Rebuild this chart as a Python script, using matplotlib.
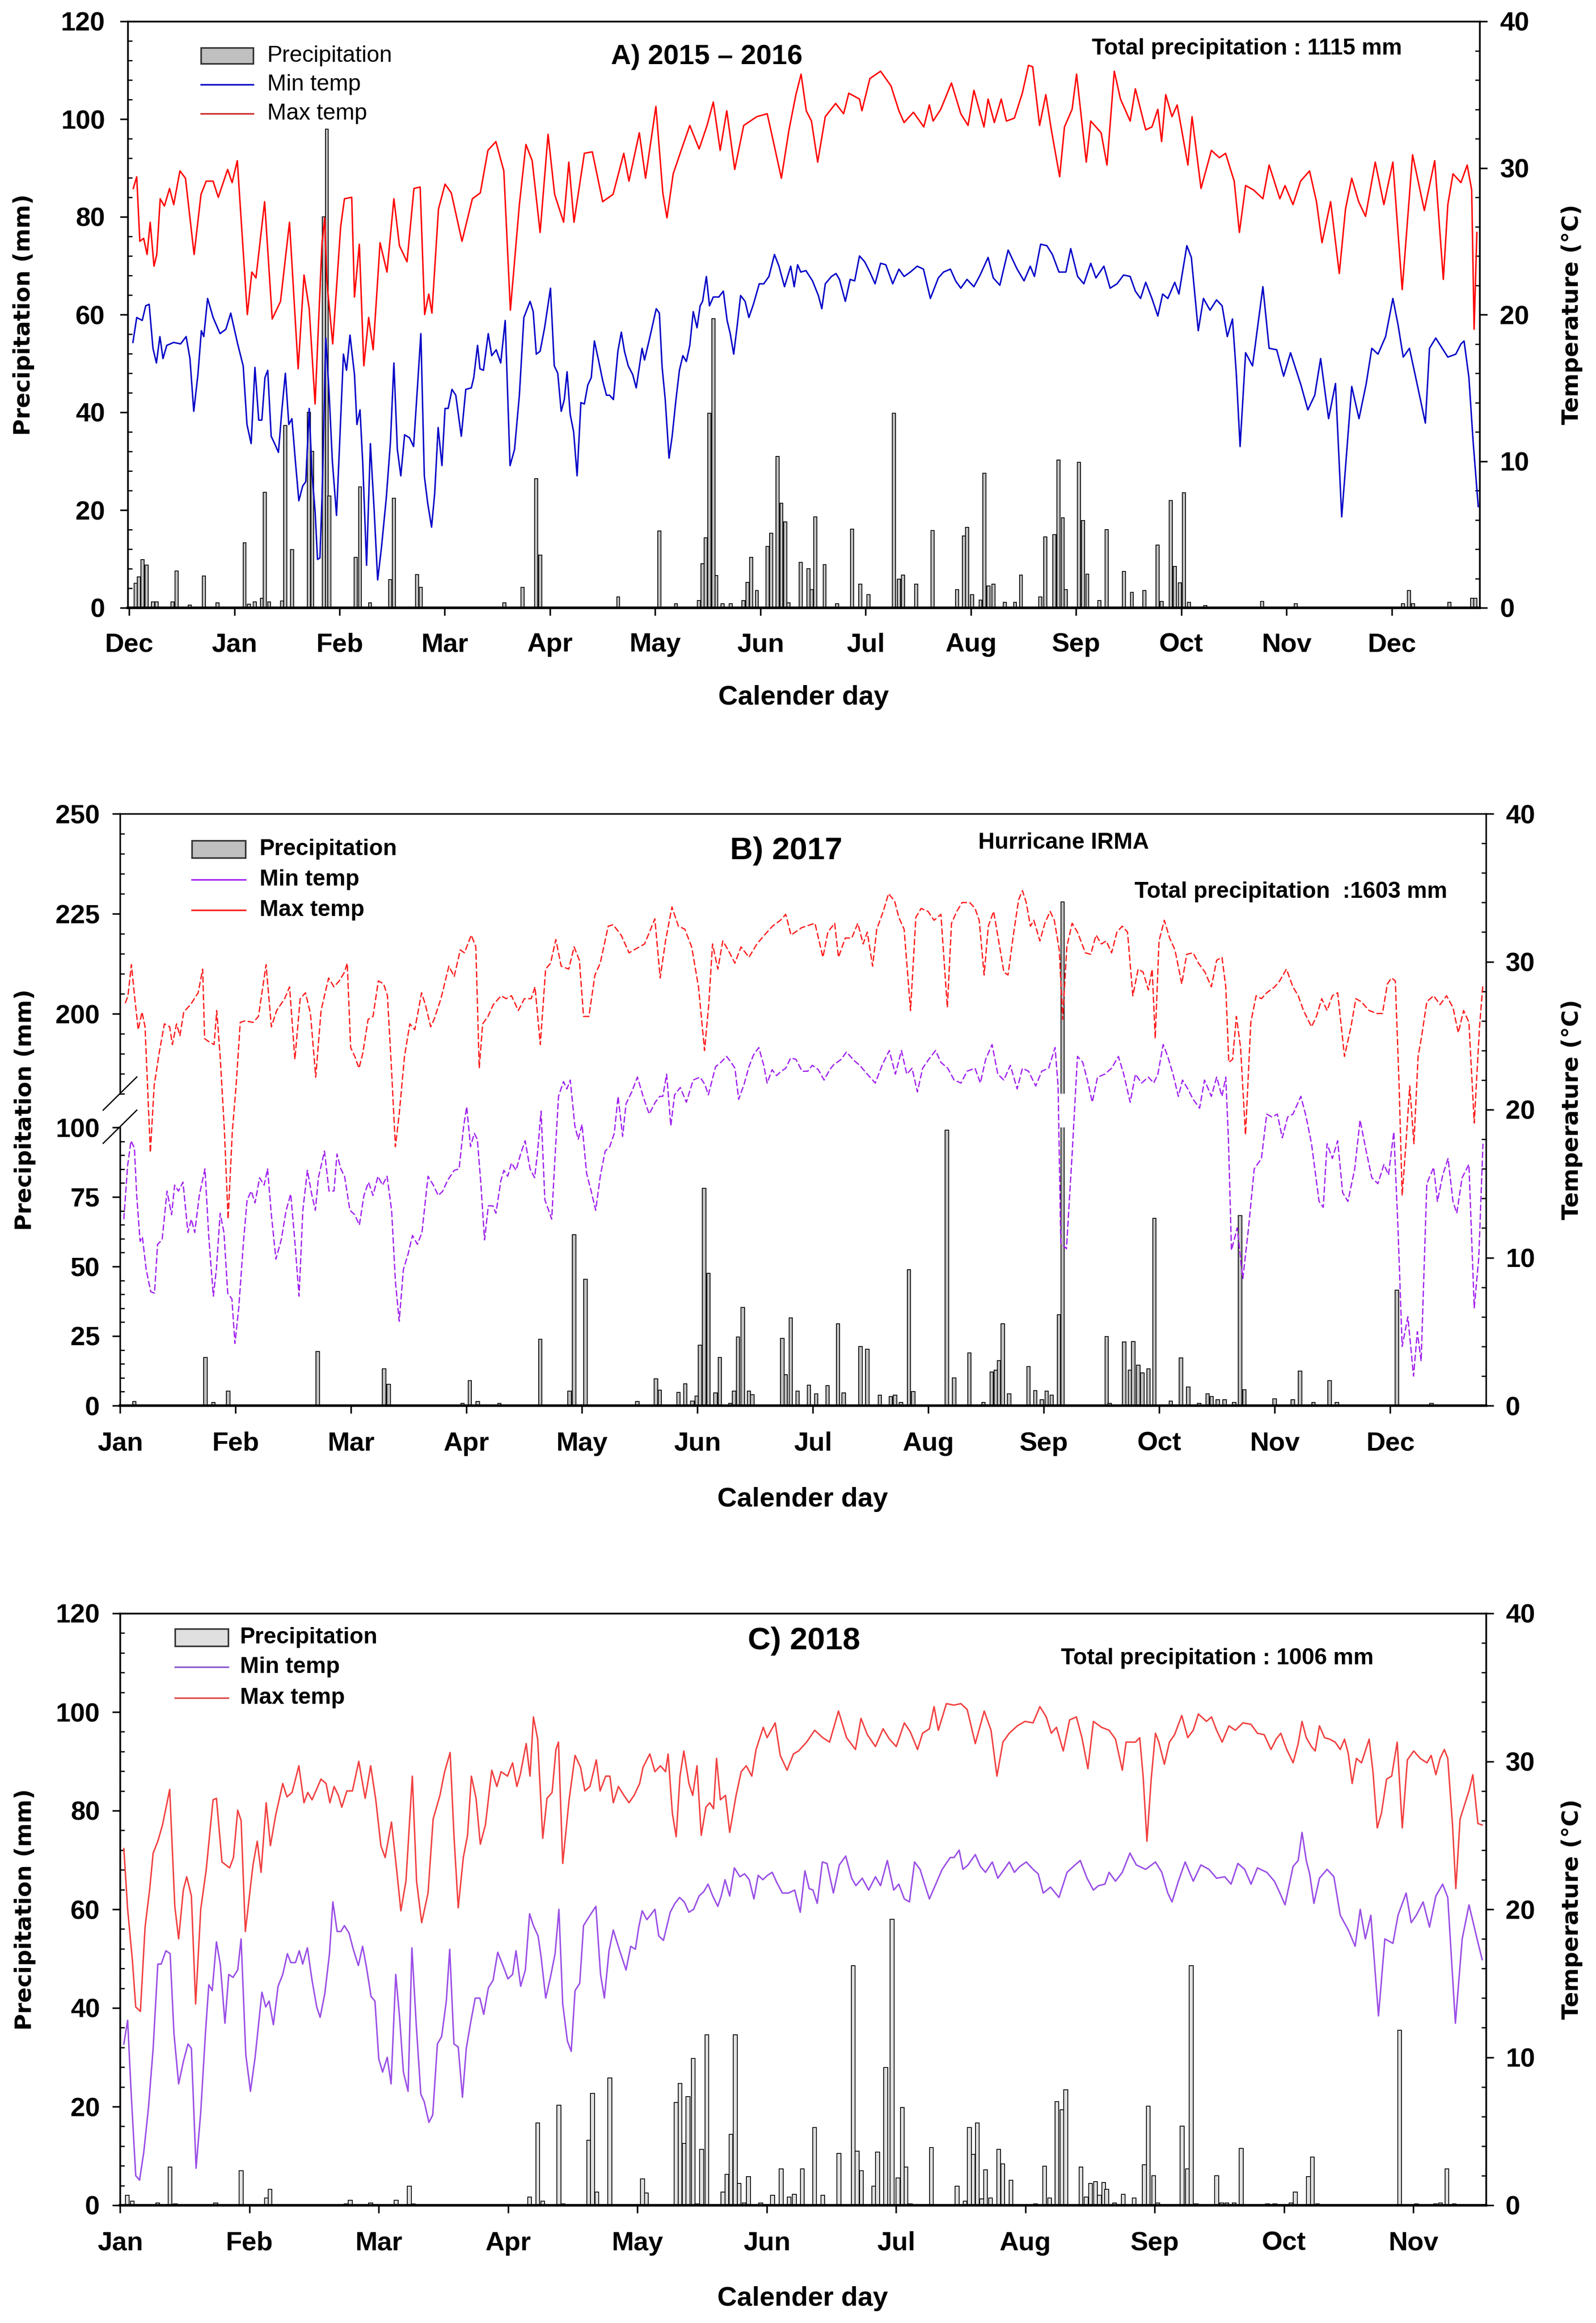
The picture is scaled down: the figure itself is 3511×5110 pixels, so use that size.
import matplotlib
matplotlib.use("Agg")
import matplotlib.pyplot as plt
from matplotlib.lines import Line2D
from matplotlib.patches import Rectangle
from matplotlib.ticker import MultipleLocator

W, H = 3512, 5110
MONTH = 30.44

plt.rcParams['font.family'] = ['Liberation Sans', 'DejaVu Sans']
plt.rcParams['font.weight'] = 'bold'
plt.rcParams['axes.linewidth'] = 2.5

# ---------------- data (day of period, value) ----------------
months_a = ['Dec', 'Jan', 'Feb', 'Mar', 'Apr', 'May', 'Jun', 'Jul', 'Aug', 'Sep', 'Oct', 'Nov', 'Dec']
months_b = ['Jan', 'Feb', 'Mar', 'Apr', 'May', 'Jun', 'Jul', 'Aug', 'Sep', 'Oct', 'Nov', 'Dec']
months_c = ['Jan', 'Feb', 'Mar', 'Apr', 'May', 'Jun', 'Jul', 'Aug', 'Sep', 'Oct', 'Nov']

a_tmax = [(1.2, 28.6), (2.2, 29.4), (3.1, 25.0), (4.2, 25.2), (5.2, 24.1), (6.1, 26.3), (7.2, 23.3), (8.0, 24.1),
          (9.0, 27.9), (10.2, 27.4), (11.7, 28.6), (12.9, 27.5), (14.7, 29.8), (16.3, 29.3), (18.8, 24.1), (20.8, 28.2),
          (22.3, 29.1), (24.3, 29.1), (25.8, 28.0), (28.5, 29.9), (29.8, 29.0), (31.3, 30.5), (34.2, 20.0), (35.5, 22.9),
          (36.7, 22.5), (39.2, 27.7), (41.4, 19.7), (43.8, 20.9), (46.4, 26.3), (48.9, 16.3), (50.6, 22.7), (52.1, 20.4),
          (53.8, 13.9), (55.8, 24.9), (56.6, 26.6), (57.2, 22.3), (58.9, 18.0), (61.2, 26.0), (62.3, 27.9), (64.4, 28.0),
          (65.2, 21.2), (66.6, 24.8), (67.9, 16.5), (69.3, 19.8), (70.6, 17.6), (72.6, 24.9), (74.6, 22.9), (76.6, 27.9),
          (78.2, 24.7), (80.4, 23.6), (82.4, 28.6), (84.2, 28.7), (85.5, 20.0), (86.7, 21.4), (87.6, 20.1), (89.5, 27.2),
          (91.4, 28.9), (93.2, 28.3), (96.3, 25.0), (99.3, 27.9), (101.6, 28.3), (103.8, 31.2), (106.1, 31.8), (108.4, 29.8),
          (110.3, 20.3), (112.9, 27.5), (114.8, 31.6), (116.6, 30.5), (118.9, 25.6), (121.2, 32.3), (123.1, 28.2), (125.7, 26.3),
          (127.2, 30.4), (128.7, 26.3), (131.7, 31.0), (134.0, 31.1), (137.0, 27.7), (140.0, 28.2), (143.1, 31.0), (144.6, 29.1),
          (147.6, 32.4), (149.4, 29.3), (152.4, 34.2), (154.4, 28.3), (155.6, 26.6), (157.4, 29.6), (159.7, 31.2), (162.2, 32.9),
          (164.9, 31.3), (167.2, 32.9), (169.0, 34.5), (171.0, 31.2), (172.9, 33.9), (175.2, 29.9), (177.8, 32.9), (181.6, 33.5),
          (184.6, 33.7), (186.1, 32.1), (188.7, 29.3), (190.9, 32.6), (192.9, 35.0), (194.4, 36.4), (195.9, 33.9), (197.4, 33.2),
          (199.2, 30.4), (201.4, 33.5), (204.4, 34.4), (206.7, 33.7), (208.2, 35.1), (211.3, 34.7), (212.0, 33.9), (214.3, 36.1),
          (217.4, 36.6), (220.4, 35.6), (222.7, 33.9), (224.2, 33.1), (226.9, 33.8), (229.9, 32.8), (231.5, 34.3), (232.6, 33.2),
          (234.8, 34.0), (237.9, 35.8), (240.6, 33.7), (242.7, 32.9), (244.4, 35.3), (247.3, 32.8), (248.5, 34.7), (250.3, 33.1),
          (252.3, 34.7), (253.8, 33.2), (256.1, 33.4), (258.4, 35.1), (260.2, 37.0), (261.4, 36.9), (263.4, 32.9), (265.2, 35.0),
          (266.8, 32.6), (269.2, 29.4), (270.6, 32.8), (272.8, 34.0), (274.1, 36.4), (276.9, 30.4), (278.2, 33.2), (281.2, 32.4),
          (282.9, 30.2), (285.0, 36.6), (286.8, 34.7), (289.6, 33.2), (291.1, 35.4), (294.1, 32.6), (295.9, 32.8), (297.6, 34.0),
          (298.7, 31.8), (299.9, 35.0), (301.7, 33.5), (303.2, 34.3), (304.5, 32.6), (306.3, 30.2), (307.5, 33.5), (310.1, 28.6),
          (313.1, 31.2), (315.4, 30.7), (317.2, 31.0), (319.7, 29.1), (321.2, 25.6), (323.0, 28.8), (325.3, 28.5), (328.0, 27.9),
          (329.8, 30.2), (332.9, 27.9), (334.4, 28.8), (336.7, 27.5), (338.9, 29.1), (341.5, 29.8), (343.5, 27.7), (345.1, 24.9),
          (347.6, 27.7), (350.1, 22.8), (351.9, 27.2), (353.7, 29.3), (355.7, 27.7), (357.7, 26.7), (360.5, 30.4), (363.0, 27.5),
          (365.6, 30.4), (368.3, 21.7), (371.3, 30.9), (374.7, 27.1), (377.7, 30.5), (380.2, 22.4), (381.5, 27.5), (383.0, 29.6),
          (385.3, 29.0), (387.1, 30.2), (388.4, 28.5), (389.1, 19.0), (389.9, 25.6)]

a_tmin = [(1.1, 18.1), (2.2, 19.8), (3.8, 19.6), (4.8, 20.6), (5.8, 20.7), (6.9, 17.7), (7.9, 16.7), (8.9, 18.5),
          (9.8, 17.0), (10.9, 17.9), (12.9, 18.1), (14.9, 18.0), (16.5, 18.5), (17.6, 17.0), (18.7, 13.4), (19.9, 15.9),
          (20.9, 18.9), (21.6, 18.5), (22.7, 21.1), (24.3, 19.8), (26.3, 18.7), (28.0, 19.0), (29.4, 20.1), (31.4, 18.0),
          (33.0, 16.5), (34.1, 12.5), (35.3, 11.2), (36.4, 16.4), (37.5, 12.8), (38.4, 12.8), (39.3, 15.7), (40.1, 16.2),
          (41.1, 11.7), (42.1, 11.2), (43.2, 10.6), (44.2, 13.5), (45.2, 16.0), (46.2, 12.5), (47.1, 12.9), (48.1, 10.0),
          (49.1, 7.3), (50.2, 8.3), (51.1, 8.6), (52.1, 13.6), (52.9, 9.2), (53.8, 6.6), (54.5, 3.3), (55.2, 3.4),
          (55.8, 7.5), (56.9, 18.4), (57.8, 14.9), (58.8, 10.0), (60.0, 6.3), (60.9, 11.2), (62.0, 17.3), (62.9, 16.2),
          (63.9, 18.6), (65.2, 15.9), (65.9, 12.5), (66.8, 13.5), (67.6, 9.8), (68.7, 2.9), (69.8, 11.2), (70.9, 6.6),
          (71.9, 1.9), (73.0, 4.1), (74.4, 7.5), (75.6, 11.3), (76.6, 16.7), (77.6, 10.8), (78.6, 9.0), (79.7, 11.8),
          (81.1, 11.6), (82.3, 11.0), (83.4, 15.0), (84.4, 18.7), (85.4, 9.0), (86.4, 7.1), (87.5, 5.5), (88.4, 7.8),
          (89.4, 12.3), (90.5, 9.7), (91.4, 13.6), (92.3, 13.6), (93.4, 14.9), (94.5, 14.5), (96.1, 11.7), (97.4, 14.9),
          (99.0, 15.0), (99.7, 15.7), (100.8, 17.9), (101.5, 16.3), (102.5, 16.2), (103.9, 18.7), (104.9, 17.2), (106.2, 17.6),
          (107.5, 16.7), (108.8, 19.6), (109.8, 12.5), (110.2, 9.7), (111.5, 10.8), (112.9, 14.5), (114.2, 19.8), (116.0, 20.9),
          (116.9, 20.2), (117.8, 17.3), (118.9, 17.5), (120.2, 19.1), (121.9, 21.8), (123.0, 16.5), (124.0, 16.0), (125.0, 13.4),
          (125.9, 14.2), (126.7, 16.1), (127.6, 13.2), (128.6, 12.0), (129.6, 9.0), (130.7, 14.0), (131.7, 13.9), (132.7, 15.2),
          (133.7, 15.7), (134.6, 18.2), (135.7, 17.0), (137.0, 15.5), (138.1, 14.5), (139.0, 14.5), (140.1, 14.2), (141.4, 17.5),
          (142.4, 18.8), (143.3, 17.5), (144.4, 16.5), (145.7, 15.9), (146.7, 15.0), (148.4, 17.7), (149.1, 16.9), (150.4, 18.2),
          (152.5, 20.4), (153.4, 20.1), (154.2, 16.4), (155.1, 14.2), (156.2, 10.2), (157.1, 11.7), (158.2, 14.2), (159.2, 16.2),
          (160.2, 17.2), (161.2, 16.8), (162.2, 17.9), (163.2, 20.2), (164.3, 19.1), (165.2, 20.6), (165.9, 20.9), (167.0, 22.6),
          (167.9, 20.6), (169.0, 21.2), (170.6, 21.2), (171.9, 21.6), (173.0, 19.6), (173.9, 18.7), (174.9, 17.3), (175.9, 19.2),
          (176.9, 21.3), (178.2, 20.9), (179.3, 19.8), (180.6, 20.7), (182.3, 22.1), (183.6, 22.1), (185.1, 22.6), (186.7, 24.1),
          (188.0, 23.3), (189.6, 21.9), (191.4, 23.3), (192.4, 21.9), (193.4, 23.4), (194.3, 22.9), (195.8, 23.0), (197.7, 22.3),
          (199.4, 21.3), (200.4, 20.4), (201.4, 22.1), (203.2, 22.6), (204.5, 22.8), (205.5, 22.4), (207.2, 20.9), (208.6, 22.4),
          (209.9, 22.3), (211.3, 24.0), (212.8, 23.6), (214.3, 22.9), (215.8, 22.1), (217.4, 23.5), (218.9, 23.4), (220.9, 22.1),
          (222.7, 23.1), (224.2, 22.6), (226.0, 22.9), (228.0, 23.3), (229.8, 23.1), (231.8, 21.1), (234.1, 22.5), (235.6, 22.9),
          (237.6, 23.1), (239.1, 22.3), (240.6, 21.8), (242.4, 22.4), (244.4, 21.9), (246.2, 22.7), (248.5, 23.9), (250.0, 22.5),
          (251.9, 22.0), (254.3, 24.4), (256.9, 23.1), (258.9, 22.3), (260.7, 23.3), (261.9, 22.6), (263.7, 24.8), (265.5, 24.7),
          (267.1, 24.1), (269.0, 22.9), (271.0, 22.9), (272.4, 24.5), (274.4, 22.6), (276.2, 22.1), (278.2, 23.5), (279.7, 22.5),
          (282.0, 23.3), (283.8, 21.8), (285.8, 22.1), (287.7, 22.7), (289.6, 22.6), (291.1, 21.6), (292.6, 21.1), (294.1, 22.2),
          (295.9, 21.1), (297.6, 19.9), (299.0, 21.4), (300.5, 21.1), (302.5, 22.2), (303.7, 21.4), (306.0, 24.7), (307.3, 23.9),
          (309.3, 18.9), (310.8, 21.1), (312.7, 20.3), (314.6, 21.0), (316.2, 20.6), (317.7, 18.5), (319.2, 19.7), (320.3, 16.0),
          (321.4, 11.0), (323.0, 17.4), (325.0, 16.5), (328.0, 21.9), (329.8, 17.7), (332.0, 17.6), (334.0, 15.8), (336.0, 17.4),
          (339.0, 15.2), (341.0, 13.5), (343.0, 14.5), (344.7, 17.0), (347.0, 12.9), (349.0, 15.3), (350.8, 6.2), (353.7, 15.1),
          (355.8, 12.9), (357.9, 15.3), (359.5, 17.7), (361.3, 17.3), (363.5, 18.5), (365.6, 21.1), (367.1, 19.3), (368.6, 17.1),
          (370.4, 17.7), (372.4, 15.5), (375.0, 12.6), (376.2, 17.7), (378.0, 18.4), (381.5, 17.1), (383.8, 17.3), (385.3, 18.0),
          (386.2, 18.2), (387.6, 15.7), (388.8, 11.4), (390.3, 6.9)]

a_rain = [(1.9, 5.0), (2.8, 6.3), (3.9, 9.9), (5.1, 8.7), (6.9, 1.2), (7.9, 1.2), (12.5, 1.2), (13.7, 7.5), (17.6, 0.6),
          (21.6, 6.5), (25.6, 1.0), (33.4, 13.3), (34.6, 0.7), (36.4, 1.2), (38.4, 2.0), (39.3, 23.6), (40.5, 1.2),
          (44.2, 1.4), (45.2, 37.3), (47.1, 11.9), (52.0, 40.0), (53.0, 32.0), (56.4, 80.0), (57.2, 98.0), (57.9, 22.9),
          (65.6, 10.3), (66.8, 24.7), (69.7, 1.0), (75.6, 5.8), (76.6, 22.4), (83.3, 6.8), (84.4, 4.2), (108.5, 1.0),
          (113.8, 4.2), (117.8, 26.4), (118.9, 10.8), (141.5, 2.2), (153.4, 15.7), (158.2, 0.8), (164.8, 1.5), (165.9, 9.0),
          (166.8, 14.3), (167.9, 39.8), (169.0, 59.2), (169.9, 6.6), (171.7, 0.8), (174.0, 0.8), (177.7, 1.5), (178.9, 5.2),
          (180.0, 10.3), (181.6, 3.5), (184.7, 12.6), (185.7, 15.3), (187.6, 31.0), (188.7, 21.4), (189.8, 17.6), (190.7, 1.0),
          (194.3, 9.3), (196.5, 8.0), (197.4, 3.7), (198.5, 18.6), (201.2, 8.8), (204.8, 0.8), (209.1, 16.1), (211.5, 4.8),
          (213.9, 2.7), (221.2, 39.8), (222.7, 5.9), (223.9, 6.7), (227.7, 4.8), (232.4, 15.8), (239.5, 3.7), (241.5, 14.7),
          (242.4, 16.5), (243.9, 2.7), (246.3, 1.6), (247.4, 27.5), (248.6, 4.5), (250.1, 4.8), (253.3, 1.1), (256.3, 1.1),
          (258.0, 6.7), (263.6, 2.2), (265.1, 14.5), (267.7, 15.0), (268.9, 30.2), (270.1, 18.4), (271.0, 3.7), (274.8, 29.8),
          (276.0, 17.9), (277.2, 6.9), (280.7, 1.5), (282.8, 16.0), (287.8, 7.4), (290.1, 3.2), (293.7, 3.5), (297.5, 12.8),
          (298.7, 1.3), (301.3, 22.0), (302.5, 8.5), (304.0, 5.1), (305.2, 23.5), (306.6, 1.1), (311.3, 0.5), (327.8, 1.3),
          (337.5, 0.8), (368.5, 0.8), (370.2, 3.5), (371.4, 0.8), (382.0, 1.1), (388.5, 2.0), (389.4, 2.0)]

b_tmax = [(1.4, 27.2), (2.1, 27.7), (3.0, 29.8), (3.9, 27.5), (4.8, 25.4), (5.8, 26.6), (6.6, 25.6), (8.0, 17.1),
          (9.0, 21.6), (10.3, 23.8), (11.7, 25.8), (13.1, 25.6), (13.8, 24.4), (14.9, 25.8), (15.8, 25.0), (16.8, 26.6),
          (18.6, 27.1), (20.6, 27.9), (21.8, 29.5), (22.3, 24.8), (23.4, 24.6), (24.8, 24.4), (25.5, 26.7), (26.4, 23.6),
          (27.5, 18.7), (28.5, 12.6), (29.6, 18.5), (30.6, 21.6), (31.7, 25.9), (33.0, 26.0), (35.1, 25.9), (36.5, 26.3),
          (38.5, 29.8), (39.9, 25.6), (41.3, 26.7), (43.4, 27.5), (44.7, 28.3), (46.1, 23.4), (47.5, 27.5), (48.9, 27.9),
          (50.2, 26.5), (51.6, 22.2), (53.0, 26.7), (55.0, 28.9), (56.4, 28.3), (57.8, 28.7), (59.2, 29.3), (59.9, 29.9),
          (60.8, 24.2), (61.9, 23.6), (63.0, 22.8), (64.0, 23.8), (65.4, 26.1), (66.7, 26.3), (68.1, 28.7), (69.5, 28.5),
          (70.5, 27.7), (71.6, 22.6), (72.6, 17.5), (73.6, 19.7), (75.0, 23.6), (76.4, 25.8), (77.7, 25.4), (79.5, 27.9),
          (80.5, 27.1), (81.9, 25.6), (82.8, 26.1), (84.6, 27.5), (86.7, 29.7), (88.1, 29.0), (89.7, 30.8), (90.8, 30.6),
          (92.6, 31.8), (93.8, 31.0), (94.7, 22.8), (95.6, 25.8), (97.0, 26.3), (98.4, 27.1), (100.5, 27.7), (101.8, 27.5),
          (103.2, 27.7), (105.0, 26.7), (106.6, 27.5), (108.4, 27.5), (109.4, 28.3), (110.8, 24.4), (112.2, 29.5), (113.5, 29.9),
          (114.9, 31.5), (116.3, 29.7), (118.3, 29.5), (119.7, 31.0), (121.1, 30.1), (122.2, 26.3), (123.6, 26.3), (125.2, 29.1),
          (126.6, 29.9), (128.7, 32.4), (130.0, 32.5), (132.1, 31.8), (134.2, 30.6), (136.2, 30.9), (138.3, 31.2), (141.0, 32.9),
          (142.4, 28.9), (143.8, 31.4), (145.5, 33.7), (147.2, 32.4), (148.9, 32.2), (150.7, 31.0), (152.5, 28.3), (154.1, 24.0),
          (155.2, 27.1), (156.2, 31.2), (157.6, 29.5), (158.9, 31.4), (160.3, 30.8), (162.1, 29.9), (163.7, 31.0), (165.8, 30.3),
          (167.9, 31.2), (169.9, 31.8), (172.0, 32.4), (174.1, 32.8), (175.5, 33.2), (176.9, 31.8), (179.7, 32.3), (183.2, 32.6),
          (185.3, 30.3), (186.6, 32.0), (188.4, 32.6), (189.4, 30.3), (191.2, 31.6), (192.9, 31.6), (194.5, 32.6), (195.9, 31.2),
          (197.0, 32.0), (198.4, 29.7), (199.5, 32.2), (201.2, 33.4), (202.6, 34.6), (204.2, 34.1), (205.3, 33.0), (206.7, 32.2),
          (208.4, 26.7), (209.8, 33.0), (211.2, 33.6), (213.0, 33.4), (214.6, 32.8), (216.4, 33.2), (218.1, 26.9), (219.2, 32.6),
          (220.6, 33.4), (222.0, 34.0), (224.0, 34.0), (225.4, 33.6), (226.5, 32.8), (227.8, 29.1), (228.9, 32.4), (230.3, 33.4),
          (231.9, 31.0), (233.0, 29.3), (234.1, 29.1), (235.5, 31.8), (236.9, 34.2), (237.9, 34.8), (238.9, 34.0), (240.0, 32.4),
          (240.9, 32.8), (242.5, 31.4), (243.8, 32.6), (245.2, 33.4), (246.3, 32.8), (247.6, 30.8), (248.5, 26.1), (249.6, 31.0),
          (251.0, 32.6), (252.4, 32.0), (254.5, 30.6), (255.9, 30.5), (257.3, 31.8), (258.7, 31.2), (260.0, 31.4), (261.4, 30.6),
          (262.8, 32.0), (264.2, 32.4), (265.6, 32.0), (267.0, 27.7), (268.4, 29.5), (269.7, 29.3), (271.1, 28.1), (272.1, 29.5),
          (272.9, 24.8), (273.9, 31.4), (275.3, 32.8), (276.7, 31.6), (278.1, 30.8), (279.9, 28.5), (281.2, 30.5), (282.9, 30.6),
          (284.3, 29.9), (286.0, 29.3), (287.7, 28.3), (289.1, 30.1), (290.5, 30.3), (291.5, 28.3), (292.3, 23.2), (293.3, 23.4),
          (294.3, 26.3), (295.4, 24.2), (296.7, 18.3), (298.1, 25.9), (299.5, 27.7), (300.9, 27.5), (302.3, 27.9), (304.4, 28.3),
          (305.7, 28.7), (307.5, 29.5), (309.2, 28.3), (310.6, 27.7), (312.0, 26.7), (314.1, 25.6), (315.4, 26.3), (316.8, 27.5),
          (318.2, 26.7), (319.6, 27.7), (321.0, 27.9), (322.8, 23.6), (324.5, 25.6), (325.8, 27.5), (327.2, 27.3), (329.3, 26.7),
          (331.4, 26.5), (332.8, 26.5), (334.1, 28.5), (335.2, 28.9), (336.2, 28.7), (337.2, 21.6), (338.0, 14.2), (339.0, 17.7),
          (340.0, 21.6), (341.1, 17.7), (342.2, 23.6), (343.1, 24.9), (344.5, 27.3), (346.3, 27.7), (348.0, 27.1), (349.7, 27.7),
          (351.4, 26.9), (352.8, 25.2), (354.2, 26.7), (355.6, 25.9), (357.0, 19.1), (358.4, 25.6), (359.3, 28.5)]

b_tmin = [(1.0, 12.6), (2.0, 16.2), (2.9, 17.9), (3.8, 17.4), (4.4, 14.2), (5.3, 11.1), (5.9, 11.4), (6.9, 9.2),
          (8.1, 7.7), (9.1, 7.6), (9.9, 10.9), (11.1, 11.2), (12.4, 14.5), (13.6, 12.9), (14.4, 14.9), (15.4, 14.5),
          (16.6, 15.1), (17.9, 11.7), (18.8, 12.6), (19.7, 11.7), (20.9, 14.2), (22.4, 16.0), (23.4, 11.4), (24.6, 7.4),
          (25.4, 9.2), (26.4, 13.0), (27.4, 11.7), (28.4, 7.6), (29.5, 7.2), (30.3, 4.2), (31.3, 6.6), (32.5, 10.9),
          (33.5, 13.9), (34.6, 14.5), (35.6, 13.7), (36.8, 15.4), (38.0, 14.9), (38.9, 16.0), (39.9, 12.9), (41.1, 9.9),
          (42.5, 11.2), (43.8, 13.2), (45.0, 14.3), (46.0, 11.4), (47.2, 7.4), (48.2, 13.2), (49.4, 15.9), (50.6, 14.2),
          (51.5, 13.2), (52.3, 15.4), (53.9, 17.2), (55.1, 14.5), (56.4, 14.5), (57.2, 17.0), (58.2, 16.0), (59.2, 15.5),
          (60.6, 13.2), (61.9, 12.9), (63.1, 12.2), (64.3, 14.2), (65.5, 15.1), (66.7, 14.2), (68.0, 15.5), (69.2, 14.9),
          (70.4, 15.5), (71.6, 13.2), (72.6, 8.4), (73.6, 5.7), (74.7, 9.2), (75.9, 10.2), (77.1, 11.5), (78.4, 10.9),
          (79.6, 11.7), (81.2, 15.5), (82.6, 14.9), (83.9, 14.2), (85.1, 14.5), (86.3, 15.2), (88.1, 15.9), (89.4, 16.0),
          (90.6, 18.9), (91.4, 20.2), (92.4, 17.5), (93.4, 18.4), (94.2, 18.0), (95.1, 15.1), (96.1, 11.2), (97.1, 13.5),
          (98.3, 13.5), (99.1, 13.0), (100.4, 15.2), (101.2, 15.9), (102.2, 15.5), (103.2, 16.4), (104.4, 15.9), (105.6, 17.0),
          (106.8, 17.9), (108.1, 16.0), (109.3, 15.4), (110.1, 17.2), (111.0, 19.9), (112.0, 13.9), (113.0, 13.2), (113.8, 12.6),
          (114.7, 16.9), (115.6, 20.9), (116.9, 21.9), (117.8, 21.4), (118.7, 22.0), (119.9, 18.9), (120.8, 18.0), (121.8, 19.0),
          (123.0, 15.7), (124.2, 14.5), (125.4, 13.2), (126.6, 15.5), (127.9, 17.2), (129.1, 17.5), (130.3, 18.4), (131.3, 20.9),
          (132.5, 18.2), (133.4, 20.4), (134.9, 21.2), (136.4, 22.2), (137.9, 20.9), (139.5, 19.7), (141.1, 20.5), (142.3, 20.9),
          (143.1, 20.9), (144.1, 22.4), (145.2, 18.9), (146.2, 21.0), (147.7, 21.5), (149.3, 20.5), (151.1, 22.0), (152.9, 22.2),
          (154.2, 21.7), (155.1, 21.0), (157.0, 22.9), (158.4, 23.2), (159.9, 23.6), (161.1, 23.2), (162.1, 22.8), (163.1, 20.7),
          (164.5, 21.7), (165.8, 22.9), (167.0, 23.7), (168.4, 24.2), (169.7, 23.0), (170.6, 21.8), (171.9, 22.7), (173.1, 22.3),
          (174.3, 22.6), (175.5, 22.8), (176.8, 23.5), (178.2, 23.4), (179.8, 22.6), (181.3, 22.6), (182.5, 23.0), (184.1, 22.7),
          (185.6, 22.0), (187.1, 22.7), (188.0, 23.0), (190.1, 23.4), (191.5, 23.9), (193.6, 23.3), (195.0, 23.0), (197.0, 22.4),
          (199.1, 21.8), (200.9, 23.0), (202.8, 24.0), (204.4, 22.4), (206.0, 24.0), (207.4, 22.4), (208.8, 22.8), (210.2, 21.2),
          (211.6, 22.8), (213.2, 23.4), (215.0, 24.0), (216.4, 23.2), (218.2, 22.8), (219.9, 22.0), (221.7, 21.8), (223.3, 22.6),
          (225.4, 22.8), (226.8, 21.8), (228.2, 23.4), (229.9, 24.4), (231.4, 22.4), (233.0, 22.0), (234.7, 23.0), (236.5, 21.4),
          (237.9, 22.8), (239.5, 22.6), (241.4, 21.6), (243.0, 22.6), (244.8, 22.8), (246.5, 24.2), (247.3, 21.6), (248.0, 11.0),
          (249.5, 10.6), (251.0, 17.0), (252.4, 23.6), (253.8, 23.2), (255.2, 21.8), (256.3, 20.5), (257.7, 22.2), (259.6, 22.4),
          (261.4, 22.8), (263.2, 23.6), (264.6, 22.4), (266.3, 20.5), (267.7, 22.4), (269.3, 21.8), (271.1, 22.2), (272.5, 21.8),
          (273.6, 22.4), (275.0, 24.4), (276.2, 23.6), (277.6, 22.4), (279.0, 20.9), (280.1, 22.0), (281.5, 21.4), (282.9, 20.7),
          (284.6, 20.1), (285.9, 22.0), (287.7, 20.9), (289.1, 22.2), (290.5, 20.9), (291.5, 22.2), (292.2, 18.0), (293.0, 10.5),
          (294.5, 12.0), (296.0, 8.6), (297.5, 12.0), (299.0, 16.0), (300.9, 16.7), (302.3, 19.7), (303.7, 19.5), (305.1, 19.7),
          (306.4, 18.1), (307.8, 19.5), (309.2, 19.7), (310.6, 20.5), (311.3, 20.9), (312.7, 19.5), (314.1, 17.7), (316.1, 13.8),
          (317.2, 13.4), (318.2, 17.7), (319.6, 16.7), (321.0, 17.9), (322.3, 14.4), (323.7, 13.8), (325.5, 16.0), (326.9, 19.3),
          (328.6, 17.1), (330.0, 15.4), (331.6, 15.0), (333.2, 16.3), (334.4, 15.6), (335.8, 18.5), (336.9, 12.0), (338.0, 4.0),
          (339.5, 6.0), (341.0, 2.0), (342.0, 5.0), (343.0, 3.0), (344.5, 15.0), (346.3, 16.1), (347.3, 13.8), (348.7, 15.6),
          (350.1, 16.7), (351.4, 13.8), (352.4, 13.0), (353.8, 15.4), (355.6, 16.3), (357.0, 6.6), (358.2, 10.0), (359.3, 17.7)]

b_rain = [(3.8, 1.5), (22.5, 17.4), (24.6, 1.2), (28.5, 5.2), (52.1, 19.4), (69.6, 13.2), (70.8, 7.7), (90.3, 0.8),
          (92.2, 9.0), (94.3, 1.5), (100.0, 0.8), (110.8, 23.8), (118.5, 5.2), (119.7, 61.4), (122.7, 45.5), (136.4, 1.5),
          (141.3, 9.6), (142.3, 5.6), (147.2, 4.7), (149.0, 7.8), (150.9, 1.6), (152.0, 3.4), (152.9, 21.8), (154.0, 78.1),
          (155.1, 47.5), (157.0, 4.6), (158.1, 17.4), (160.9, 0.8), (161.9, 5.2), (162.9, 24.7), (164.2, 35.3), (165.8, 5.2),
          (166.7, 4.0), (174.6, 24.2), (175.5, 11.1), (176.8, 31.5), (178.6, 5.2), (181.6, 7.4), (183.5, 4.3), (186.5, 7.2),
          (189.3, 29.4), (190.8, 4.6), (195.2, 21.2), (197.0, 20.2), (200.3, 3.7), (203.2, 3.3), (204.3, 3.7), (205.9, 1.2),
          (208.0, 48.9), (209.1, 5.0), (218.0, 99.0), (219.9, 10.0), (223.9, 18.9), (227.6, 1.1), (229.8, 12.1), (230.9, 12.7),
          (231.7, 16.1), (232.7, 29.4), (234.4, 4.2), (239.5, 14.0), (241.3, 5.4), (243.0, 2.1), (244.3, 5.2), (245.6, 3.7),
          (247.5, 32.7), (248.5, 228.0), (260.1, 24.8), (260.9, 0.8), (264.7, 22.9), (266.3, 12.7), (267.1, 23.1), (268.4, 14.6),
          (269.5, 11.7), (271.1, 13.3), (272.7, 67.3), (277.0, 1.6), (279.7, 17.1), (281.6, 6.7), (284.5, 0.8), (286.7, 4.2),
          (287.8, 3.3), (289.4, 2.2), (291.2, 2.2), (293.7, 1.2), (295.3, 68.3), (296.4, 5.8), (304.4, 2.5), (309.2, 2.1),
          (311.1, 12.5), (314.6, 1.1), (318.9, 9.0), (320.8, 1.2), (336.6, 41.5), (345.7, 0.8)]

c_tmax = [(0.9, 24.1), (1.8, 20.0), (2.9, 16.6), (3.7, 13.4), (4.8, 13.1), (5.9, 18.8), (7.0, 21.4), (7.8, 23.8),
          (8.9, 24.6), (10.0, 25.7), (11.7, 28.1), (12.9, 20.2), (13.8, 18.0), (14.9, 21.3), (15.7, 22.2), (16.8, 20.9),
          (17.8, 13.6), (19.0, 20.0), (20.3, 22.7), (21.9, 27.4), (22.7, 27.5), (24.0, 23.2), (25.8, 22.8), (26.7, 23.5),
          (27.7, 26.7), (28.5, 26.0), (29.5, 18.5), (31.3, 23.0), (32.3, 24.6), (33.2, 22.5), (34.4, 27.2), (35.4, 24.3),
          (36.6, 26.3), (38.3, 28.5), (39.3, 27.6), (40.5, 27.9), (42.1, 29.7), (43.3, 27.2), (44.2, 27.9), (45.2, 27.4),
          (47.3, 28.8), (48.5, 28.5), (49.4, 27.2), (50.4, 28.3), (51.4, 27.7), (52.2, 26.9), (53.4, 28.0), (54.7, 28.0),
          (56.2, 30.0), (57.7, 27.5), (59.0, 29.7), (60.2, 27.4), (61.4, 24.3), (62.4, 23.5), (63.9, 25.9), (65.1, 22.7),
          (66.1, 19.9), (67.3, 21.9), (68.8, 29.0), (69.8, 21.9), (71.0, 19.1), (72.5, 21.1), (73.7, 26.1), (75.3, 27.7),
          (76.4, 29.3), (77.7, 30.6), (78.6, 25.0), (79.6, 20.1), (80.8, 23.5), (81.8, 25.0), (82.7, 29.0), (83.8, 27.5),
          (84.8, 24.4), (86.0, 25.7), (87.5, 29.4), (88.7, 28.3), (89.7, 29.3), (91.2, 29.0), (92.4, 29.9), (93.4, 28.3),
          (94.2, 29.1), (95.6, 31.2), (96.5, 29.0), (97.3, 33.0), (98.3, 31.5), (99.5, 24.8), (100.5, 27.5), (101.7, 27.9),
          (102.6, 30.8), (103.2, 31.3), (104.2, 23.1), (105.7, 27.4), (107.1, 30.4), (108.4, 29.6), (109.4, 28.0), (110.6, 28.3),
          (112.1, 30.1), (113.0, 28.0), (114.3, 29.0), (115.3, 29.0), (116.1, 27.2), (117.3, 28.3), (118.6, 27.7), (119.8, 27.2),
          (121.0, 27.7), (122.3, 28.5), (123.1, 29.6), (124.7, 30.5), (125.9, 29.3), (127.2, 29.7), (128.4, 29.3), (129.0, 30.5),
          (130.0, 26.5), (130.9, 24.9), (131.8, 29.0), (132.7, 30.7), (133.9, 28.5), (134.8, 27.7), (135.8, 29.7), (136.8, 25.0),
          (137.9, 26.9), (138.8, 27.2), (139.7, 26.8), (140.4, 30.2), (141.3, 27.4), (142.5, 27.7), (143.5, 25.2), (145.0, 27.7),
          (146.2, 29.3), (147.4, 29.7), (148.7, 29.0), (149.7, 30.8), (151.4, 32.3), (152.3, 31.6), (154.2, 32.6), (155.4, 30.4),
          (157.0, 29.4), (158.5, 30.5), (159.7, 30.7), (161.6, 31.3), (163.5, 32.1), (165.4, 31.6), (167.0, 31.3), (169.1, 33.4),
          (171.0, 31.6), (173.1, 30.8), (174.4, 32.9), (175.9, 31.8), (177.8, 31.0), (179.6, 32.2), (181.1, 31.5), (182.7, 31.0),
          (184.6, 32.6), (186.0, 32.0), (187.7, 30.8), (188.9, 31.9), (190.5, 32.2), (191.6, 33.7), (192.6, 32.1), (194.5, 33.9),
          (196.3, 33.8), (197.9, 33.9), (199.4, 33.5), (201.3, 31.2), (203.4, 33.4), (205.0, 32.1), (206.4, 29.0), (207.8, 31.3),
          (209.3, 31.9), (211.2, 32.4), (213.0, 32.7), (214.9, 32.6), (216.5, 33.7), (218.0, 33.0), (219.2, 31.9), (220.4, 32.3),
          (222.0, 30.7), (223.5, 32.8), (225.1, 33.0), (226.4, 31.6), (227.8, 29.5), (229.1, 32.7), (231.0, 32.3), (232.8, 32.1),
          (234.3, 31.5), (235.9, 29.4), (236.8, 31.3), (239.0, 31.3), (240.0, 31.6), (240.8, 29.0), (241.7, 24.6), (242.7, 28.8),
          (243.7, 31.9), (244.5, 31.3), (245.8, 29.8), (247.0, 31.3), (248.2, 31.8), (249.9, 33.1), (251.3, 31.6), (252.6, 32.1),
          (253.8, 33.2), (255.7, 32.7), (256.9, 33.0), (258.1, 32.1), (259.4, 31.3), (261.0, 32.4), (262.5, 32.1), (264.3, 32.6),
          (266.2, 32.5), (267.7, 31.9), (269.3, 31.8), (270.9, 30.8), (272.1, 31.5), (273.2, 31.9), (274.6, 30.8), (276.1, 29.9),
          (277.3, 31.2), (278.2, 32.7), (279.2, 31.6), (280.4, 31.0), (281.3, 30.7), (282.3, 32.4), (283.5, 31.6), (284.7, 31.5),
          (286.0, 31.3), (287.2, 30.8), (288.2, 31.5), (289.1, 30.5), (290.0, 28.5), (291.0, 30.2), (292.2, 29.9), (294.0, 31.5),
          (294.9, 29.3), (295.9, 25.5), (296.9, 26.5), (298.1, 28.8), (299.3, 29.0), (300.6, 31.3), (301.8, 25.5), (303.0, 30.1),
          (304.5, 30.7), (306.0, 30.2), (307.6, 29.9), (308.6, 30.4), (309.7, 29.1), (310.7, 30.2), (311.7, 30.8), (312.5, 30.2),
          (313.6, 25.8), (314.4, 21.4), (315.4, 26.1), (316.6, 27.2), (317.5, 28.0), (318.4, 29.1), (319.6, 25.8), (320.6, 25.7)]

c_tmin = [(0.9, 10.9), (1.8, 12.5), (2.6, 7.7), (3.7, 2.0), (4.6, 1.7), (5.6, 3.6), (6.7, 6.6), (7.8, 10.6),
          (8.9, 16.3), (9.7, 16.3), (10.8, 17.2), (11.8, 17.0), (12.7, 11.6), (13.8, 8.2), (14.9, 9.7), (16.0, 10.9),
          (16.8, 10.6), (17.9, 2.5), (19.0, 6.3), (20.1, 11.6), (20.9, 14.9), (21.7, 14.5), (22.7, 17.8), (23.6, 16.3),
          (24.7, 12.3), (25.6, 15.6), (26.6, 15.4), (27.7, 15.9), (28.5, 18.0), (29.6, 10.2), (30.7, 7.7), (31.8, 10.0),
          (33.4, 14.4), (34.3, 13.4), (35.1, 13.8), (36.1, 12.2), (37.2, 14.8), (38.3, 15.6), (39.4, 17.0), (40.2, 16.4),
          (41.3, 16.4), (42.2, 17.2), (43.0, 16.3), (44.1, 17.4), (45.2, 15.2), (46.3, 13.4), (47.1, 12.7), (48.2, 14.3),
          (49.3, 17.0), (50.1, 20.5), (51.1, 18.5), (52.0, 18.5), (52.8, 18.9), (53.9, 18.4), (54.9, 17.3), (56.1, 16.2),
          (57.1, 17.5), (58.0, 16.1), (59.1, 14.1), (60.0, 13.8), (60.9, 9.9), (61.8, 9.0), (62.9, 10.0), (63.8, 8.2),
          (64.9, 15.6), (65.8, 12.7), (66.7, 9.0), (67.8, 7.7), (68.7, 17.4), (69.7, 12.3), (70.8, 7.5), (71.6, 7.0),
          (72.7, 5.6), (73.6, 6.1), (74.7, 10.9), (75.7, 11.4), (76.8, 13.8), (77.6, 17.3), (78.6, 10.9), (79.6, 10.7),
          (80.6, 7.3), (81.5, 10.6), (82.5, 12.3), (83.6, 14.0), (84.7, 14.0), (85.6, 12.9), (86.7, 14.7), (87.8, 15.2),
          (88.9, 17.1), (90.0, 16.3), (91.3, 15.3), (92.4, 15.6), (93.2, 17.2), (94.3, 14.8), (95.4, 15.9), (96.4, 19.7),
          (97.3, 18.9), (98.4, 18.2), (99.1, 16.8), (100.2, 14.0), (101.3, 15.4), (102.4, 17.0), (103.3, 20.0), (104.2, 13.6),
          (105.3, 11.1), (106.2, 10.4), (107.1, 14.5), (108.2, 15.0), (109.1, 18.9), (110.4, 19.5), (112.0, 20.2), (113.1, 15.6),
          (114.0, 14.0), (115.1, 17.2), (116.1, 18.6), (117.5, 17.3), (119.1, 15.9), (120.2, 17.5), (121.3, 17.3), (122.1, 18.8),
          (122.9, 19.9), (124.0, 19.3), (125.1, 19.7), (125.9, 20.0), (126.8, 18.2), (127.9, 17.9), (129.5, 19.8), (130.6, 20.4),
          (131.7, 20.8), (132.8, 20.5), (133.9, 19.8), (135.0, 20.0), (136.3, 20.9), (137.4, 21.2), (138.4, 21.7), (139.5, 20.9),
          (140.7, 20.2), (141.5, 20.9), (142.4, 22.0), (143.5, 20.9), (144.6, 22.8), (145.9, 22.2), (147.0, 22.4), (148.1, 22.0),
          (149.2, 20.7), (150.2, 22.3), (151.3, 22.0), (152.4, 22.3), (153.5, 22.5), (154.6, 21.8), (155.9, 21.1), (157.3, 21.1),
          (158.8, 21.3), (160.1, 19.8), (161.2, 22.6), (162.2, 21.4), (163.1, 21.3), (164.1, 20.4), (165.3, 23.2), (166.4, 23.1),
          (167.9, 21.1), (169.3, 23.0), (170.8, 23.6), (172.2, 22.1), (173.2, 21.6), (174.7, 22.1), (176.2, 21.3), (177.8, 22.2),
          (179.0, 21.6), (180.6, 23.3), (182.1, 21.3), (183.3, 21.7), (184.6, 20.7), (185.8, 20.5), (187.0, 23.2), (188.3, 22.7),
          (189.5, 21.6), (190.5, 20.7), (192.0, 21.7), (193.5, 22.7), (195.4, 23.5), (196.3, 23.5), (197.5, 24.0), (198.4, 22.7),
          (199.6, 23.0), (201.3, 23.7), (202.5, 22.9), (203.7, 22.5), (205.3, 23.2), (206.6, 22.1), (208.1, 22.7), (209.3, 23.2),
          (210.5, 22.5), (211.8, 22.9), (213.3, 23.2), (214.9, 22.7), (216.1, 22.4), (217.3, 21.1), (219.0, 21.5), (221.0, 20.8),
          (222.9, 22.5), (224.4, 22.9), (226.0, 23.3), (227.6, 22.1), (229.1, 21.3), (230.3, 21.6), (231.8, 21.7), (232.8, 22.5),
          (234.3, 21.9), (235.9, 22.5), (237.7, 23.8), (239.2, 23.0), (241.4, 22.7), (243.7, 23.2), (245.2, 22.5), (246.6, 21.1),
          (247.6, 20.5), (249.1, 21.9), (250.7, 23.2), (252.6, 21.9), (254.4, 23.0), (256.3, 22.7), (258.1, 22.1), (260.0, 22.2),
          (261.5, 21.7), (263.1, 23.1), (264.7, 22.7), (266.2, 21.7), (267.7, 22.8), (269.9, 22.5), (271.7, 21.9), (273.0, 21.1),
          (274.2, 20.3), (276.1, 22.9), (277.3, 23.3), (278.2, 25.2), (279.2, 23.3), (280.0, 22.4), (281.0, 20.4), (282.3, 22.1),
          (284.1, 22.7), (285.7, 22.2), (287.2, 19.6), (289.1, 18.6), (290.7, 17.5), (291.9, 20.0), (293.1, 18.0), (294.4, 19.6),
          (296.2, 12.8), (297.7, 18.0), (299.6, 17.7), (300.8, 19.6), (302.7, 21.1), (303.9, 19.1), (305.1, 19.6), (306.7, 20.5),
          (308.2, 18.8), (309.7, 20.9), (311.3, 21.7), (312.5, 20.8), (314.3, 12.3), (315.9, 18.0), (317.5, 20.3), (319.4, 18.0),
          (320.6, 16.6)]

c_rain = [(1.7, 2.0), (2.9, 0.8), (8.9, 0.5), (11.8, 7.7), (13.0, 0.3), (22.5, 0.5), (28.5, 7.0), (34.5, 1.5),
          (35.3, 3.2), (53.2, 0.3), (54.2, 1.0), (59.0, 0.5), (65.0, 1.0), (68.1, 3.9), (69.0, 0.3), (96.4, 1.7),
          (98.3, 16.7), (99.5, 0.8), (103.3, 20.3), (104.3, 0.3), (110.3, 13.2), (111.2, 22.7), (112.2, 2.7), (115.3, 25.8),
          (123.0, 5.3), (123.9, 2.5), (130.9, 20.8), (131.8, 24.7), (132.8, 12.5), (133.7, 22.0), (134.9, 29.8), (135.9, 0.3),
          (136.9, 11.3), (138.1, 34.6), (141.9, 2.7), (142.8, 6.3), (143.8, 14.4), (144.8, 34.6), (145.7, 4.4), (146.9, 0.5),
          (147.9, 5.8), (150.8, 0.5), (153.6, 2.0), (155.6, 7.4), (157.5, 1.7), (158.7, 2.2), (160.6, 7.4), (163.5, 15.8),
          (165.4, 2.0), (169.2, 10.5), (172.6, 48.6), (173.5, 11.0), (174.5, 7.0), (177.4, 3.9), (178.3, 10.8), (180.2, 27.9),
          (181.7, 58.0), (183.1, 5.5), (184.1, 19.8), (185.0, 7.7), (186.0, 0.3), (191.0, 11.7), (197.0, 3.9), (198.9, 0.8),
          (199.9, 15.8), (200.8, 10.3), (201.8, 16.7), (202.8, 1.3), (203.7, 7.2), (204.9, 1.5), (206.8, 11.3), (207.8, 8.4),
          (209.7, 5.1), (215.5, 0.3), (217.6, 7.9), (218.8, 1.5), (220.5, 21.0), (221.7, 19.4), (222.6, 23.4), (226.2, 7.7),
          (227.4, 1.7), (228.4, 4.4), (229.6, 4.8), (230.5, 2.0), (231.5, 4.6), (232.2, 3.2), (234.1, 0.5), (236.1, 2.2),
          (238.7, 1.5), (241.1, 8.2), (242.0, 20.1), (243.3, 6.0), (244.2, 0.5), (250.0, 16.0), (251.2, 7.4), (252.1, 48.6),
          (253.3, 0.3), (258.1, 6.0), (259.3, 0.5), (260.5, 0.5), (262.2, 0.5), (263.9, 11.5), (270.1, 0.3), (271.8, 0.3),
          (275.6, 0.5), (276.6, 2.7), (279.7, 5.8), (280.6, 9.8), (281.8, 0.3), (301.2, 35.5), (305.1, 0.3), (309.6, 0.3),
          (310.8, 0.5), (312.3, 7.4), (314.0, 0.3)]


# ---------------- helpers ----------------
def fx(x):
    return x / W


def fy(y):
    return 1 - y / H


def rect(left, top, right, bottom):
    return [fx(left), fy(bottom), (right - left) / W, (bottom - top) / H]


def unzip(pts):
    return [p[0] for p in pts], [p[1] for p in pts]


def style_left(ax, major, minor, pad):
    ax.yaxis.set_major_locator(MultipleLocator(major))
    ax.yaxis.set_minor_locator(MultipleLocator(minor))
    ax.tick_params(axis='y', which='major', direction='out', length=12, width=2.5, labelsize=42, pad=pad)
    ax.tick_params(axis='y', which='minor', direction='in', length=7, width=2)


def style_right(ax, pad):
    ax.set_ylim(0, 40)
    ax.yaxis.set_major_locator(MultipleLocator(10))
    ax.yaxis.set_minor_locator(MultipleLocator(2))
    ax.yaxis.tick_right()
    ax.tick_params(axis='y', which='major', direction='out', length=12, width=2.5, labelsize=42, pad=pad)
    ax.tick_params(axis='y', which='minor', direction='in', length=7, width=2)


def style_x(ax, labels, xmin, xmax, pad):
    ax.set_xlim(xmin, xmax)
    ax.set_xticks([i * MONTH for i in range(len(labels))])
    ax.set_xticklabels(labels)
    ax.tick_params(axis='x', which='major', direction='out', length=12, width=2.5, labelsize=42, pad=pad)
    ax.spines['bottom'].set_linewidth(4)


def draw_bars(ax, pts, face):
    d, v = unzip(pts)
    ax.bar(d, v, width=0.9, color=face, edgecolor='black', linewidth=1.3, zorder=2)


def legend(fig, px, top, bottom, text_x, ymin, ymax, face, cmin, cmax, weight):
    fig.add_artist(Rectangle((fx(px[0]), fy(bottom)), (px[1] - px[0]) / W, (bottom - top) / H,
                             transform=fig.transFigure, facecolor=face, edgecolor='#333333', linewidth=2.5))
    fig.add_artist(Line2D([fx(px[0]), fx(px[1])], [fy(ymin)] * 2, transform=fig.transFigure, color=cmin, lw=2.5))
    fig.add_artist(Line2D([fx(px[0]), fx(px[1])], [fy(ymax)] * 2, transform=fig.transFigure, color=cmax, lw=2.5))
    for y, s in [((top + bottom) / 2, 'Precipitation'), (ymin, 'Min temp'), (ymax, 'Max temp')]:
        fig.text(fx(text_x), fy(y), s, ha='left', va='center', fontsize=36, fontweight=weight)


def side_labels(fig, ymid, xl=55, xr=3458):
    fig.text(fx(xl), fy(ymid), 'Precipitation (mm)', rotation=90, ha='center', va='center',
             fontsize=36, fontweight='bold', family='DejaVu Sans')
    fig.text(fx(xr), fy(ymid), 'Temperature (°C)', rotation=90, ha='center', va='center',
             fontsize=36, fontweight='bold', family='DejaVu Sans')


fig = plt.figure(figsize=(W / 100, H / 100), dpi=100)

# ---------------- A) 2015 - 2016 ----------------
axa = fig.add_axes(rect(281, 47, 3255, 1337))
draw_bars(axa, a_rain, '#c0c0c0')
axa.set_ylim(0, 120)
style_left(axa, 20, 4, 24)
style_x(axa, months_a, -0.4, 390.7, 27)
ta = axa.twinx()
d, v = unzip(a_tmin)
ta.plot(d, v, color='#0000c8', lw=2.3)
d, v = unzip(a_tmax)
ta.plot(d, v, color='#ff0000', lw=2.3)
style_right(ta, 20)
fig.text(fx(1555), fy(125), 'A) 2015 – 2016', ha='center', va='center', fontsize=44)
fig.text(fx(2743), fy(107), 'Total precipitation : 1115 mm', ha='center', va='center', fontsize=36)
legend(fig, (442, 557), 105, 140, 588, 186, 250, '#c0c0c0', '#0000c8', '#cc2a2a', 'normal')
side_labels(fig, 692, 52, 3458)
fig.text(fx(1768), fy(1535), 'Calender day', ha='center', va='center', fontsize=43)

# ---------------- B) 2017 (broken precipitation axis) ----------------
bl, br, btop, bbot = 264, 3269, 1790, 3092
ax_up = fig.add_axes(rect(bl, btop, br, 2406))
ax_lo = fig.add_axes(rect(bl, 2480, br, bbot))
for ax in (ax_up, ax_lo):
    draw_bars(ax, b_rain, '#c0c0c0')
    ax.spines['right'].set_visible(False)
ax_up.set_ylim(180, 250)
ax_lo.set_ylim(0, 100)
style_left(ax_up, 25, 5, 20)
style_left(ax_lo, 25, 5, 20)
ax_up.spines['bottom'].set_visible(False)
ax_up.set_xlim(0, 360.1)
ax_up.set_xticks([])
ax_lo.spines['top'].set_visible(False)
style_x(ax_lo, months_b, 0, 360.1, 29)

tb = fig.add_axes(rect(bl, btop, br, bbot))
tb.patch.set_visible(False)
for s in ('left', 'top', 'bottom'):
    tb.spines[s].set_visible(False)
tb.set_xlim(0, 360.1)
tb.set_xticks([])
d, v = unzip(b_tmin)
tb.plot(d, v, color='#a020f0', lw=2.0, ls=(0, (5, 2)))
d, v = unzip(b_tmax)
tb.plot(d, v, color='#ff1a1a', lw=2.0, ls=(0, (5, 2)))
style_right(tb, 19)

for y0 in (2442, 2515):
    fig.add_artist(Line2D([fx(227), fx(301)], [fy(y0), fy(y0 - 73)], transform=fig.transFigure,
                          color='black', lw=2))

fig.text(fx(1730), fy(1872), 'B) 2017', ha='center', va='center', fontsize=50)
fig.text(fx(2340), fy(1854), 'Hurricane IRMA', ha='center', va='center', fontsize=36)
fig.text(fx(2840), fy(1962), 'Total precipitation  :1603 mm', ha='center', va='center', fontsize=36)
legend(fig, (422, 540), 1849, 1887, 571, 1935, 2002, '#c0c0c0', '#a020f0', '#ff1a1a', 'bold')
side_labels(fig, 2441)
fig.text(fx(1766), fy(3299), 'Calender day', ha='center', va='center', fontsize=43)

# ---------------- C) 2018 ----------------
axc = fig.add_axes(rect(264, 3549, 3269, 4851))
draw_bars(axc, c_rain, '#e0e0e0')
axc.set_ylim(0, 120)
style_left(axc, 20, 4, 20)
style_x(axc, months_c, 0, 321.5, 29)
tc = axc.twinx()
d, v = unzip(c_tmin)
tc.plot(d, v, color='#9a4ee6', lw=2.3)
d, v = unzip(c_tmax)
tc.plot(d, v, color='#f24040', lw=2.3)
style_right(tc, 19)
fig.text(fx(1769), fy(3610), 'C) 2018', ha='center', va='center', fontsize=50)
fig.text(fx(2678), fy(3648), 'Total precipitation : 1006 mm', ha='center', va='center', fontsize=36)
legend(fig, (385, 502), 3583, 3621, 528, 3667, 3735, '#e0e0e0', '#8a55d0', '#dd4848', 'bold')
side_labels(fig, 4200)
fig.text(fx(1766), fy(5057), 'Calender day', ha='center', va='center', fontsize=43)

fig.savefig('out.png', dpi=100)
